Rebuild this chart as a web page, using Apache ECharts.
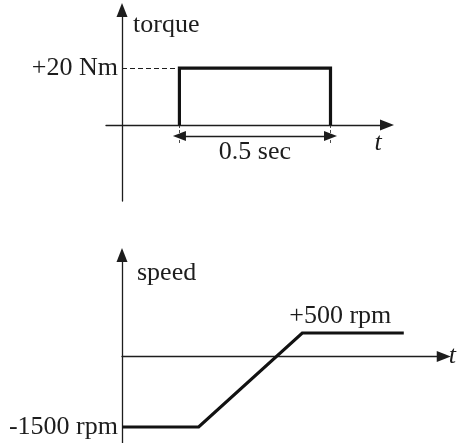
<!DOCTYPE html>
<html>
<head>
<meta charset="utf-8">
<script src="https://cdn.jsdelivr.net/npm/echarts@6/dist/echarts.min.js"></script>
<style>
  html, body { margin: 0; padding: 0; background: #fff; }
  #chart { width: 457px; height: 443px; }
</style>
</head>
<body>
<div id="chart"></div>
<script>
// Torque pulse (N·m) applied for a fixed interval
const torqueTime = [0.19, 0.19, 0.69, 0.69];
const torqueValues = [0, 20, 20, 0];
const torqueTickValues = [20];
const torqueTickLabels = ['+20 Nm'];
const pulseLabel = '0.5 sec';

// Resulting shaft speed (rpm)
const speedTime = [0, 0.37, 0.87, 1.36];
const speedValues = [-1500, -1500, 500, 500];
const speedTickValues = [-1500];
const speedTickLabels = ['-1500 rpm'];
const speedEndLabel = '+500 rpm';

const axisNames = { torque: 'torque', speed: 'speed', time: 't' };

const FONT = 'Liberation Serif';
const FS = 26;
const INK = '#1d1d1d';
const LINE = '#121212';
const ARROW = 'triangle';

const arrowAxisLine = {
  onZero: true,
  symbol: ['none', ARROW],
  symbolSize: [11, 14],
  lineStyle: { color: INK, width: 1.3 }
};

function tickFormatter(values, labels) {
  return v => {
    const i = values.indexOf(v);
    return i >= 0 ? labels[i] : '';
  };
}

const pulseStart = torqueTime[1];
const pulseEnd = torqueTime[2];
const dimY = -3.9;      // height of the interval arrow, torque units
const dimTickEnd = -7;  // lower end of the interval end marks

const chart = echarts.init(document.getElementById('chart'), null, { renderer: 'canvas' });

chart.setOption({
  animation: false,
  backgroundColor: '#fff',
  textStyle: { fontFamily: FONT, color: INK },
  grid: [
    { left: 106, right: 70, top: 10, bottom: 242 },
    { left: 122, right: 12, top: 255, bottom: 0 }
  ],
  xAxis: [
    {
      gridIndex: 0, type: 'value', min: -0.053, max: 0.877,
      axisLine: arrowAxisLine,
      axisTick: { show: false }, axisLabel: { show: false }, splitLine: { show: false },
      name: axisNames.time, nameLocation: 'end', nameGap: -9,
      nameTextStyle: { fontFamily: FONT, fontSize: FS, fontStyle: 'italic', color: INK,
        align: 'center', verticalAlign: 'top', padding: [5, 0, 0, 0] }
    },
    {
      gridIndex: 1, type: 'value', min: 0, max: 1.553,
      axisLine: arrowAxisLine,
      axisTick: { show: false }, axisLabel: { show: false }, splitLine: { show: false },
      name: axisNames.time, nameLocation: 'end', nameGap: 5,
      nameTextStyle: { fontFamily: FONT, fontSize: FS, fontStyle: 'italic', color: INK,
        align: 'left', verticalAlign: 'middle' }
    }
  ],
  yAxis: [
    {
      gridIndex: 0, type: 'value', min: -26.7, max: 40.4,
      axisLine: arrowAxisLine,
      axisTick: { show: false }, splitLine: { show: false },
      axisLabel: {
        customValues: torqueTickValues,
        formatter: tickFormatter(torqueTickValues, torqueTickLabels),
        margin: -12, fontFamily: FONT, fontSize: FS, color: INK
      },
      name: axisNames.torque, nameLocation: 'end', nameGap: -2,
      nameTextStyle: { fontFamily: FONT, fontSize: FS, color: INK,
        align: 'left', verticalAlign: 'top', padding: [0, 0, 0, 11] }
    },
    {
      gridIndex: 1, type: 'value', min: -1840, max: 2160,
      axisLine: arrowAxisLine,
      axisTick: { show: false }, splitLine: { show: false },
      axisLabel: {
        customValues: speedTickValues,
        formatter: tickFormatter(speedTickValues, speedTickLabels),
        margin: 4, fontFamily: FONT, fontSize: FS, color: INK
      },
      name: axisNames.speed, nameLocation: 'end', nameGap: -5,
      nameTextStyle: { fontFamily: FONT, fontSize: FS, color: INK,
        align: 'left', verticalAlign: 'top', padding: [0, 0, 0, 15] }
    }
  ],
  series: [
    {
      type: 'line',
      xAxisIndex: 0, yAxisIndex: 0,
      data: torqueTime.map((t, i) => [t, torqueValues[i]]),
      symbol: 'none',
      lineStyle: { color: LINE, width: 3.2, join: 'miter' },
      markLine: {
        silent: true,
        symbol: ['none', 'none'],
        symbolSize: [10, 13],
        label: { show: false },
        data: [
          [
            { coord: [0, torqueValues[1]], lineStyle: { color: INK, width: 1, type: [5, 3] } },
            { coord: [pulseStart, torqueValues[1]] }
          ],
          [
            { coord: [pulseStart, dimY], symbol: ARROW,
              lineStyle: { color: INK, width: 1.3, type: 'solid' },
              label: { show: true, formatter: pulseLabel, position: 'insideMiddleBottom',
                distance: 3, fontFamily: FONT, fontSize: FS, color: INK } },
            { coord: [pulseEnd, dimY], symbol: ARROW }
          ],
          [
            { coord: [pulseStart, 0], lineStyle: { color: INK, width: 0.8, type: [3, 2] } },
            { coord: [pulseStart, dimTickEnd] }
          ],
          [
            { coord: [pulseEnd, 0], lineStyle: { color: INK, width: 0.8, type: [3, 2] } },
            { coord: [pulseEnd, dimTickEnd] }
          ]
        ]
      }
    },
    {
      type: 'line',
      xAxisIndex: 1, yAxisIndex: 1,
      data: speedTime.map((t, i) => [t, speedValues[i]]),
      symbol: 'none',
      lineStyle: { color: LINE, width: 3.2, join: 'miter' },
      markPoint: {
        silent: true,
        symbol: 'circle',
        symbolSize: 0,
        data: [{
          coord: [speedTime[2], speedValues[2]],
          label: { show: true, formatter: speedEndLabel, position: 'top',
            offset: [38, 0], distance: 4, fontFamily: FONT, fontSize: FS, color: INK }
        }]
      }
    }
  ]
});
</script>
</body>
</html>
